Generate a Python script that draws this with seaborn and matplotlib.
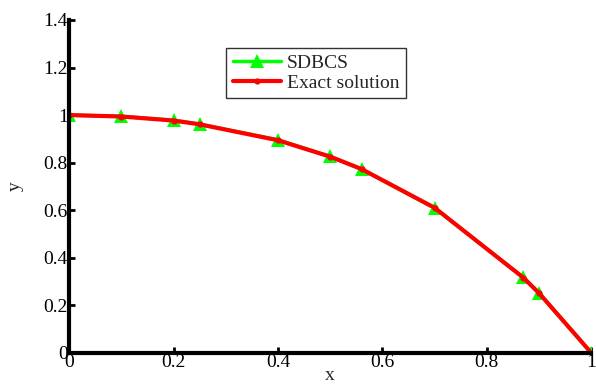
import numpy as np
import pandas as pd
import matplotlib
matplotlib.use("Agg")
import matplotlib.pyplot as plt
import seaborn as sns

# ------------------ Data ------------------
x_vals = [0.0, 0.1, 0.2, 0.25, 0.4, 0.5, 0.56, 0.7, 0.87, 0.9, 1.0]
sdbcs_y = [1.0, 0.995, 0.978, 0.962, 0.896, 0.826, 0.773, 0.609, 0.317, 0.252, 0.0]
exact_y = [1.0, 0.994, 0.977, 0.961, 0.894, 0.825, 0.773, 0.610, 0.316, 0.251, 0.0]

df = pd.DataFrame({'x': x_vals, 'SDBCS': sdbcs_y, 'Exact solution': exact_y})

# ------------------ Style ------------------
sns.set_style('ticks')
plt.rcParams['font.family'] = ['Liberation Serif', 'DejaVu Serif']

fig = plt.figure(figsize=(5.96, 3.92), dpi=100)
ax = fig.add_axes([0.116, 0.100, 0.876, 0.849])

sns.lineplot(data=df, x='x', y='SDBCS', ax=ax, color='#00ff00', lw=2.5,
             marker='^', markersize=10, markeredgewidth=0, label='SDBCS')
sns.lineplot(data=df, x='x', y='Exact solution', ax=ax, color='#ff0000', lw=3,
             marker='o', markersize=4.5, markeredgewidth=0, label='Exact solution')

ax.set_xlim(0, 1)
ax.set_ylim(0, 1.4)
ax.set_xticks([0, 0.2, 0.4, 0.6, 0.8, 1])
ax.set_xticklabels(['0', '0.2', '0.4', '0.6', '0.8', '1'])
ax.set_yticks([0, 0.2, 0.4, 0.6, 0.8, 1, 1.2, 1.4])
ax.set_yticklabels(['0', '0.2', '0.4', '0.6', '0.8', '1', '1.2', '1.4'])
ax.tick_params(direction='in', length=4, width=2, labelsize=14, pad=1, colors='black')
ax.set_xlabel('x', fontsize=14, labelpad=-3)
ax.set_ylabel('y', fontsize=14, labelpad=14)

for side in ['top', 'right']:
    ax.spines[side].set_visible(False)
for side in ['left', 'bottom']:
    ax.spines[side].set_linewidth(3)
    ax.spines[side].set_color('black')

leg = ax.legend(loc='upper left', bbox_to_anchor=(0.30, 0.917), borderaxespad=0,
                fontsize=14, frameon=True, fancybox=False, edgecolor='black',
                handlelength=2.5, borderpad=0.35, labelspacing=0.1, handletextpad=0.3)
leg.get_frame().set_linewidth(1)

fig.savefig('out.png', dpi=100)
